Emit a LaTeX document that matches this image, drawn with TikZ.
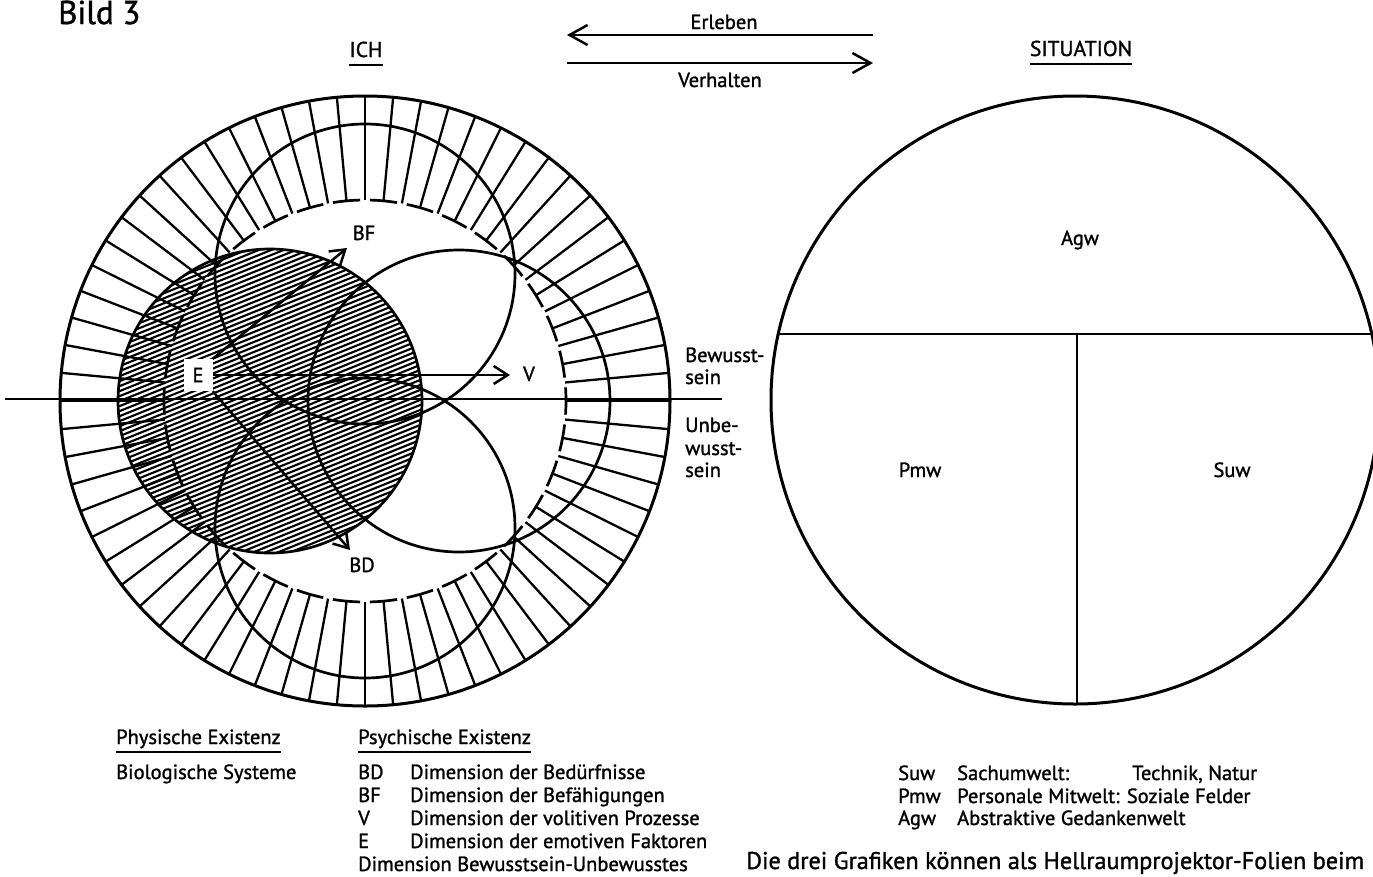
\documentclass[tikz,border=0pt]{standalone}
\usepackage{fontspec}
\setmainfont{PT Sans}[BoldFont={PT Sans}, BoldFeatures={FakeBold=1.3}]
\usetikzlibrary{arrows.meta}
\begin{document}
\begin{tikzpicture}[x=1pt,y=-1pt,
  every node/.style={inner sep=0pt},
  txt/.style={font=\fontsize{20.5}{24}\selectfont\bfseries, anchor=base west},
  ctxt/.style={font=\fontsize{20.5}{24}\selectfont\bfseries, anchor=base},
  ttl/.style={font=\fontsize{21.5}{25}\selectfont\bfseries, anchor=base},
  big/.style={font=\fontsize{33}{38}\selectfont\bfseries, anchor=base west},
  foot/.style={font=\fontsize{24.2}{28}\selectfont\bfseries, anchor=base west},
  heavy/.style={line width=3pt},
  ring/.style={line width=2.7pt},
  tickline/.style={line width=2.3pt},
  hatchline/.style={line width=2.1pt},
  uline/.style={line width=2.4pt},
  arr/.style={line width=2.5pt, -{Straight Barb[length=14pt,width=18pt,line width=2.5pt]}},
  toparr/.style={line width=2.5pt, -{Straight Barb[length=18pt,width=20pt,line width=2.5pt]}},
  ebox/.style={fill=white, minimum width=29pt, minimum height=32pt, font=\fontsize{20.5}{24}\selectfont\bfseries},
]
\useasboundingbox (0,0) rectangle (1373,876);
\fill[white] (0,0) rectangle (1373,876);
\def\stp{5.2941176}

% ---------- left diagram ----------
\coordinate (C) at (365,401);
% hatched E disc
\begin{scope}
  \clip (270,401) circle[radius=152];
  \foreach \c in {250,255,...,700} \draw[hatchline] (110,\c) -- (430,\c-129);
\end{scope}
% radial ticks
\foreach \k in {0,...,67}{
  \pgfmathsetmacro\a{90+\k*\stp}
  \draw[tickline] ([shift={(\a:201)}]C) -- ([shift={(\a:305)}]C);
}
% dashed inner ring
\foreach \k in {0,...,33}{
  \pgfmathsetmacro\a{90+2*\k*\stp+1.4}
  \pgfmathsetmacro\b{90+(2*\k+2)*\stp-1.4}
  \draw[ring] ([shift={(\a:201)}]C) arc[start angle=\a, end angle=\b, radius=201];
}
\draw[heavy] (C) circle[radius=305];
\draw[ring] (270,401) circle[radius=152];
\draw[ring] (459,401) circle[radius=151];
\draw[ring] (365,274) circle[radius=150];
\draw[ring] (365,528) circle[radius=150];
\coordinate (hl) at (5,399);
\coordinate (hr) at (722,399);
\draw[ring] (hl) -- (hr);

\node[ebox] (E) at (198,375) {E};
\node[ctxt] (BF) at (364,240) {BF};
\node[ctxt] (V) at (529,381) {V};
\node[ctxt] (BD) at (362,572) {BD};
\coordinate (BFtip) at (347,248);
\coordinate (Vtip) at (510,375);
\coordinate (BDtip) at (350,550);
\draw[arr] (E.north east) -- (BFtip);
\draw[arr] (E.east) -- (Vtip);
\draw[arr] (E.south east) -- (BDtip);

\node[txt] (bw1) at (685,362) {Bewusst-};
\node[txt] (bw2) at (685,384) {sein};
\node[txt] (ub1) at (685,432) {Unbe-};
\node[txt] (ub2) at (685,455) {wusst-};
\node[txt] (ub3) at (685,477) {sein};

% ---------- titles ----------
\node[big] (bild) at (58,24) {Bild 3};
\node[ttl] (ich) at (366,57) {ICH};
\draw[uline] ([yshift=-8pt]ich.base west) -- ([yshift=-8pt]ich.base east);
\node[ttl] (sit) at (1081,56) {SITUATION};
\draw[uline] ([yshift=-8pt]sit.base west) -- ([yshift=-8pt]sit.base east);
\node[ctxt] (erl) at (724,29) {Erleben};
\node[ctxt] (ver) at (720,87) {Verhalten};
\coordinate (a1) at (873,35);
\coordinate (a2) at (567,35);
\draw[toparr] (a1) -- (a2);
\coordinate (b1) at (567,63);
\coordinate (b2) at (873,63);
\draw[toparr] (b1) -- (b2);

% ---------- right diagram ----------
\coordinate (S) at (1075,400);
\draw[heavy] (S) circle[radius=304];
\coordinate (chL) at (779,334);
\coordinate (chR) at (1372,334);
\coordinate (vt) at (1077,334);
\coordinate (vb) at (1077,704);
\draw[ring] (chL) -- (chR);
\draw[ring] (vt) -- (vb);
\node[ctxt] (agw) at (1080,245) {Agw};
\node[ctxt] (pmw) at (920,477) {Pmw};
\node[ctxt] (suw) at (1232,477) {Suw};

% ---------- legend left ----------
\node[txt] (phys) at (116,744) {Physische Existenz};
\draw[uline] ([yshift=-8pt]phys.base west) -- ([yshift=-8pt]phys.base east);
\node[txt] (psych) at (358,744) {Psychische Existenz};
\draw[uline] ([yshift=-8pt]psych.base west) -- ([yshift=-8pt]psych.base east);
\node[txt] (bio) at (116,779) {Biologische Systeme};
\node[txt] (l1a) at (358,779) {BD};
\node[txt] (l1b) at (410,779) {Dimension der Bedürfnisse};
\node[txt] (l2a) at (358,802) {BF};
\node[txt] (l2b) at (410,802) {Dimension der Befähigungen};
\node[txt] (l3a) at (358,825) {V};
\node[txt] (l3b) at (410,825) {Dimension der volitiven Prozesse};
\node[txt] (l4a) at (358,848) {E};
\node[txt] (l4b) at (410,848) {Dimension der emotiven Faktoren};
\node[txt] (l5) at (358,871) {Dimension Bewusstsein-Unbewusstes};

% ---------- legend right ----------
\node[txt] (r1a) at (898,780) {Suw};
\node[txt] (r1b) at (957,780) {Sachumwelt:};
\node[txt] (r1c) at (1132,780) {Technik, Natur};
\node[txt] (r2a) at (898,803) {Pmw};
\node[txt] (r2b) at (957,803) {Personale Mitwelt: Soziale Felder};
\node[txt] (r3a) at (898,825) {Agw};
\node[txt] (r3b) at (957,825) {Abstraktive Gedankenwelt};
\node[foot] (foot) at (746,869) {Die drei Grafiken können als Hellraumprojektor-Folien beim};
\end{tikzpicture}
\end{document}
